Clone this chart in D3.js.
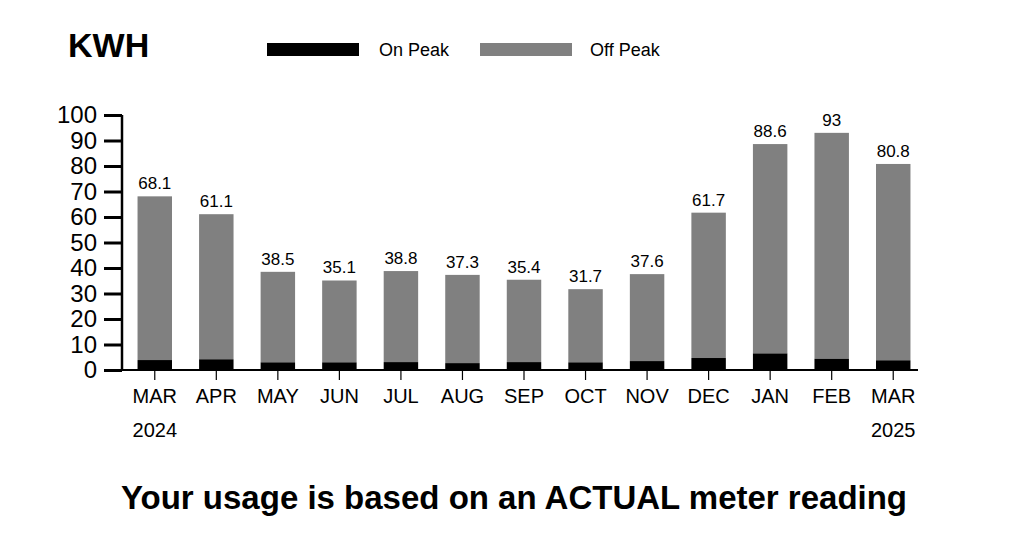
<!DOCTYPE html>
<html><head><meta charset="utf-8">
<script src="https://cdn.jsdelivr.net/npm/d3@7"></script>
<style>body{margin:0;background:#fff;font-family:"Liberation Sans",Arial,sans-serif;}</style>
</head><body><svg id="c" width="1024" height="559"></svg>
<script>
const months = ["MAR","APR","MAY","JUN","JUL","AUG","SEP","OCT","NOV","DEC","JAN","FEB","MAR"];
const years = ["2024","","","","","","","","","","","","2025"];
const totals = [68.1,61.1,38.5,35.1,38.8,37.3,35.4,31.7,37.6,61.7,88.6,93,80.8];
const onPeak = [3.9,4.2,3.0,3.0,3.1,2.7,3.1,3.0,3.5,4.7,6.5,4.4,3.8];
const yTicks = [0,10,20,30,40,50,60,70,80,90,100];

const svg = d3.select("#c");
const font = '"Liberation Sans",Arial,sans-serif';
const idx = months.map((m,i)=>i);
const x = d3.scaleBand().domain(idx).range([124,924]).paddingInner(0.44).paddingOuter(0.22);
const y = d3.scaleLinear().domain([0,100]).range([370,115]);

// bars
const g = svg.append("g");
g.selectAll("rect.off").data(idx).join("rect")
  .attr("x", i=>x(i)).attr("width", x.bandwidth())
  .attr("y", i=>y(totals[i])).attr("height", i=>y(onPeak[i]) - y(totals[i]))
  .attr("fill","#808080");
g.selectAll("rect.on").data(idx).join("rect")
  .attr("x", i=>x(i)).attr("width", x.bandwidth())
  .attr("y", i=>y(onPeak[i])).attr("height", i=>y(0)-y(onPeak[i]))
  .attr("fill","#000");
g.selectAll("text.val").data(idx).join("text")
  .attr("x", i=>x(i)+x.bandwidth()/2).attr("y", i=>y(totals[i])-7)
  .attr("text-anchor","middle").attr("font-family",font).attr("font-size",17)
  .text(i=>totals[i]);

// y axis
const ya = svg.append("g").attr("transform","translate(122,0)")
  .call(d3.axisLeft(y).tickValues(yTicks).tickSize(18).tickPadding(7));
ya.select(".domain").attr("stroke","#000").attr("stroke-width",2.5).attr("d","M0,115V371");
ya.selectAll(".tick line").attr("stroke-width",3);
ya.selectAll(".tick text").attr("font-family",font).attr("font-size",24).attr("fill","#000");

// x axis
const xa = svg.append("g").attr("transform","translate(0,370)")
  .call(d3.axisBottom(x).tickSize(10).tickPadding(9).tickFormat(i=>months[i]));
xa.select(".domain").attr("d","M121,0H918").attr("stroke-width",2);
xa.selectAll(".tick line").attr("stroke-width",1.2);
xa.selectAll(".tick text").attr("font-family",font).attr("font-size",20).attr("fill","#000");
svg.append("g").selectAll("text").data(idx.filter(i=>years[i])).join("text")
  .attr("x", i=>x(i)+x.bandwidth()/2).attr("y", 437)
  .attr("text-anchor","middle").attr("font-family",font).attr("font-size",20)
  .text(i=>years[i]);

// title & legend
svg.append("text").attr("x",68).attr("y",57).attr("font-family",font)
  .attr("font-size",34).attr("font-weight","bold").text("KWH");
const legend = [["On Peak","#000",267,379],["Off Peak","#808080",480,590]];
legend.forEach(([t,c,rx,tx])=>{
  svg.append("rect").attr("x",rx).attr("y",43).attr("width",92).attr("height",13).attr("fill",c);
  svg.append("text").attr("x",tx).attr("y",56).attr("font-family",font).attr("font-size",18).text(t);
});
svg.append("text").attr("x",514).attr("y",509).attr("text-anchor","middle")
  .attr("font-family",font).attr("font-size",33).attr("font-weight","bold")
  .text("Your usage is based on an ACTUAL meter reading");
</script></body></html>
